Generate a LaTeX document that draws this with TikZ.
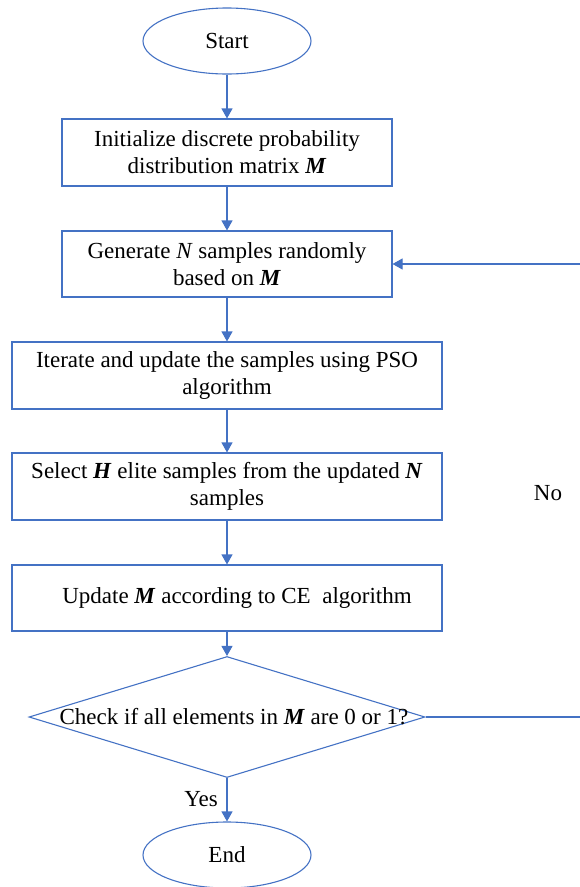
\documentclass[tikz,border=0pt]{standalone}
\usepackage{fontspec}
\setmainfont{Liberation Serif}
\usetikzlibrary{arrows.meta,shapes.geometric}
\definecolor{flowblue}{HTML}{4472C4}
\newcommand{\bm}[1]{\textbf{\textit{#1}}}
\begin{document}
\begin{tikzpicture}[x=1pt,y=-1pt,
  font=\fontsize{23}{27}\selectfont,
  line/.style={draw=flowblue, line width=1.1pt},
  arr/.style={line, -{Triangle[length=10pt,width=11pt]}},
  procbox/.style={draw=flowblue, line width=1.1pt, rectangle, align=center, inner sep=0pt},
  term/.style={draw=flowblue, line width=1.1pt, ellipse, inner sep=0pt, minimum width=168pt, minimum height=66pt},
  decis/.style={draw=flowblue, line width=1.1pt, diamond, inner sep=0pt, minimum width=396pt, minimum height=121pt},
  lbl/.style={inner sep=0pt}]
\useasboundingbox (0,0) rectangle (579,887);
\node[term] (start) at (227,41) {Start};
\node[procbox, minimum width=330pt, minimum height=67pt] (init) at (227,152.5)
  {Initialize discrete probability\\distribution matrix \bm{M}};
\node[procbox, minimum width=330pt, minimum height=66pt] (gen) at (227,264)
  {Generate \textit{N} samples randomly\\based on \bm{M}};
\node[procbox, minimum width=430pt, minimum height=67pt] (iter) at (227,375.5)
  {Iterate and update the samples using PSO\\algorithm};
\node[procbox, minimum width=430pt, minimum height=67pt] (sel) at (227,486.5)
  {Select \bm{H} elite samples from the updated \bm{N}\\samples};
\node[procbox, minimum width=430pt, minimum height=66pt] (upd) at (227,598)
  {\hspace*{20pt}Update \bm{M} according to CE\ \ algorithm};
\node[decis] (dia) at (227,717) {};
\node[lbl] (diatext) at (234,717) {Check if all elements in \bm{M} are 0 or 1?};
\node[term] (end) at (227,855) {End};
\node[lbl] (yes) at (201,799) {Yes};
\node[lbl] (no) at (548,493) {No};
\coordinate (fb) at (583,717);
\draw[arr] (start) -- (init);
\draw[arr] (init) -- (gen);
\draw[arr] (gen) -- (iter);
\draw[arr] (iter) -- (sel);
\draw[arr] (sel) -- (upd);
\draw[arr] (upd) -- (dia);
\draw[arr] (dia) -- (end);
\draw[arr] (dia.east) -- (fb) |- (gen.east);
\end{tikzpicture}
\end{document}
